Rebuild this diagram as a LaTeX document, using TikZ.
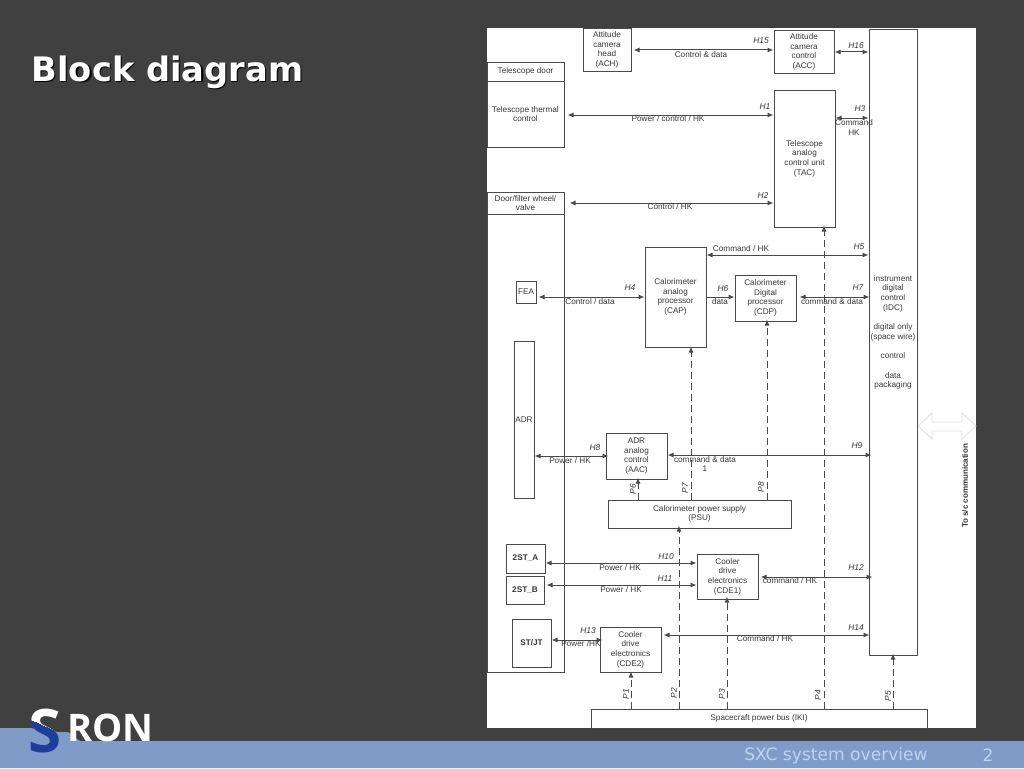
\documentclass[tikz,border=0pt]{standalone}
\usepackage{fontspec}
\setmainfont{Liberation Sans}
\newfontfamily\verd{DejaVu Sans}
\newfontfamily\logofont{Open Sans}
\usetikzlibrary{arrows.meta}
\definecolor{slate}{HTML}{404040}
\definecolor{band}{HTML}{7F9BC8}
\definecolor{ink}{HTML}{4A4A4A}
\definecolor{txt}{HTML}{383838}
\definecolor{foot}{HTML}{BDD3EE}
\definecolor{sblue}{HTML}{1D3F9B}
\tikzset{
  x=1pt,y=-1pt,
  blk/.style={draw=ink,line width=1pt,fill=white,inner sep=0pt,text=txt,font=\fontsize{8.2}{9.7}\selectfont,align=center,minimum width=#1},
  lab/.style={text=txt,font=\fontsize{8.2}{9.7}\selectfont,align=center,inner sep=0pt},
  hl/.style={text=txt,font=\fontsize{8.4}{9.7}\selectfont\itshape,inner sep=0pt},
  pl/.style={text=txt,font=\fontsize{8.4}{9.7}\selectfont\itshape,inner sep=0pt,rotate=90},
  bi/.style={draw=ink,line width=1pt,{Latex[length=6pt,width=5pt]}-{Latex[length=6pt,width=5pt]}},
  uni/.style={draw=ink,line width=1pt,-{Latex[length=6pt,width=5pt]}},
  pw/.style={draw=ink,line width=1pt,dash pattern=on 7pt off 4pt,-{Latex[length=6pt,width=5pt]}},
}
% box: name, x1, y1, x2, y2, text
\newcommand{\bx}[6]{\node[blk=#4pt-#2pt,minimum height=#5pt-#3pt] (#1) at ({(#2+#4)/2},{(#3+#5)/2}) {#6};}
\begin{document}
\begin{tikzpicture}
\useasboundingbox (0,0) rectangle (1024,768);
\fill[slate] (0,0) rectangle (1024,768);
\fill[band] (0,728) -- (30,728) -- (58,732) -- (68,732) -- (80,741) -- (1024,741) -- (1024,768) -- (0,768) -- cycle;
\fill[white] (487,28) rectangle (976,728);
% title
\node[anchor=base west,inner sep=0pt,text=black,font=\verd\bfseries\fontsize{33.7}{36}\selectfont] (titleshadow) at (32.7,82.7) {Block diagram};
\node[anchor=base west,inner sep=0pt,text=white,font=\verd\bfseries\fontsize{33.7}{36}\selectfont] (title) at (31.5,81.5) {Block diagram};
% footer
\node[inner sep=0pt,text=foot,font=\verd\fontsize{17.1}{18}\selectfont] (foottext) at (836,755.5) {SXC system overview};
\node[inner sep=0pt,text=foot,font=\verd\fontsize{17.1}{18}\selectfont] (pagenum) at (988,755.5) {2};
% logo
\node[anchor=base west,inner sep=0pt,text=white,font=\logofont\bfseries\fontsize{38}{38}\selectfont] (ron) at (67,741.5) {RON};
\begin{scope}
\clip (0,690) -- (80,690) -- (80,742) -- (0,706) -- cycle;
\node[anchor=base west,inner sep=0pt,text=white,font=\logofont\bfseries\fontsize{60}{60}\selectfont] (sw) at (28,752) {S};
\end{scope}
\begin{scope}
\clip (0,706) -- (80,742) -- (80,768) -- (0,768) -- cycle;
\node[anchor=base west,inner sep=0pt,text=sblue,font=\logofont\bfseries\fontsize{60}{60}\selectfont] (sb) at (28,752) {S};
\end{scope}
% big arrow
\filldraw[draw=black!12,fill=white,line width=0.8pt] (918,426) -- (932,413) -- (932,422) -- (962,422) -- (962,413) -- (976,426) -- (962,439) -- (962,431) -- (932,431) -- (932,439) -- cycle;
\node[rotate=90,inner sep=0pt,text=black!80,font=\bfseries\fontsize{8}{9}\selectfont] (comm) at (965,486) {To s/c communication};
% boxes
\bx{ACH}{583}{29}{631}{71}{Attitude\\camera\\head\\(ACH)}
\bx{ACC}{774}{31}{834}{73}{Attitude\\camera\\control\\(ACC)}
\bx{IDC}{869}{30}{917}{655}{}
\node[lab] (idctext) at (893,332.5) {instrument\\digital\\control\\(IDC)\\[9.7pt]digital only\\(space wire)\\[9.7pt]control\\[9.7pt]data\\packaging};
\bx{TD}{487}{62}{564}{81}{Telescope door}
\bx{TT}{487}{81}{564}{147}{}
\node[lab] (tttext) at (525.5,114) {Telescope thermal\\control};
\bx{TAC}{774}{90}{835}{227}{Telescope\\analog\\control unit\\(TAC)}
\bx{DF}{487}{192}{564}{214}{Door/filter wheel/\\valve}
\bx{DB}{487}{214}{564}{672}{}
\bx{CAP}{645}{247}{706}{347}{Calorimeter\\analog\\processor\\(CAP)}
\bx{CDP}{735}{275}{796}{321}{Calorimeter\\Digital\\processor\\(CDP)}
\bx{FEA}{516}{281}{536}{303}{FEA}
\bx{ADR}{514}{341}{534}{498}{ADR}
\bx{AAC}{606}{433}{667}{479}{ADR\\analog\\control\\(AAC)}
\bx{PSU}{608}{500}{791}{528}{Calorimeter power supply\\(PSU)}
\bx{STA}{506}{544}{545}{573}{\bfseries 2ST\_A}
\bx{STB}{506}{576}{544}{604}{\bfseries 2ST\_B}
\bx{STJ}{512}{619}{551}{667}{\bfseries ST/JT}
\bx{CDEa}{697}{554}{758}{599}{Cooler\\drive\\electronics\\(CDE1)}
\bx{CDEb}{600}{627}{661}{672}{Cooler\\drive\\electronics\\(CDE2)}
\bx{IKI}{591}{709}{927}{728}{Spacecraft power bus (IKI)}
% horizontal connectors
\draw[bi] ([xshift=2pt]ACH.east |- 0,50) -- (ACC.west |- 0,50);
\draw[bi] (ACC.east |- 0,52) -- (IDC.west |- 0,52);
\draw[bi] ([xshift=3pt]TT.east |- 0,115) -- (TAC.west |- 0,115);
\draw[bi] (TAC.east |- 0,118) -- (IDC.west |- 0,118);
\draw[bi] ([xshift=5pt]DB.east |- 0,203) -- (TAC.west |- 0,203);
\draw[bi] (CAP.east |- 0,255) -- (IDC.west |- 0,255);
\draw[bi] ([xshift=2pt]FEA.east |- 0,297) -- (CAP.west |- 0,297);
\draw[uni] (CAP.east |- 0,297) -- (CDP.west |- 0,297);
\draw[bi] ([xshift=3pt]CDP.east |- 0,297) -- ([xshift=1pt]IDC.west |- 0,297);
\draw[bi] (ADR.east |- 0,456) -- ([xshift=3pt]AAC.west |- 0,456);
\draw[bi] (AAC.east |- 0,455) -- ([xshift=3pt]IDC.west |- 0,455);
\draw[bi] (STA.east |- 0,563) -- (CDEa.west |- 0,563);
\draw[bi] ([xshift=2pt]STB.east |- 0,585) -- (CDEa.west |- 0,585);
\draw[bi] ([xshift=2pt]CDEa.east |- 0,577) -- ([xshift=4pt]IDC.west |- 0,577);
\draw[bi] (STJ.east |- 0,640) -- ([xshift=3pt]CDEb.west |- 0,640);
\draw[bi] ([xshift=2pt]CDEb.east |- 0,635) -- ([xshift=1pt]IDC.west |- 0,635);
% dashed power connectors
\draw[pw] (IKI.north -| 631,0) -- ([yshift=1pt]CDEb.south -| 631,0);
\draw[pw] (IKI.north -| 679,0) -- ([yshift=3pt]PSU.south -| 679,0);
\draw[pw] (IKI.north -| 727,0) -- ([yshift=3pt]CDEa.south -| 727,0);
\draw[pw] (IKI.north -| 824,0) -- ([yshift=2pt]TAC.south -| 824,0);
\draw[pw] (IKI.north -| 893,0) -- ([yshift=2pt]IDC.south -| 893,0);
\draw[pw] (PSU.north -| 638,0) -- ([yshift=2pt]AAC.south -| 638,0);
\draw[pw] (PSU.north -| 691,0) -- ([yshift=1pt]CAP.south -| 691,0);
\draw[pw] (PSU.north -| 767,0) -- ([yshift=2pt]CDP.south -| 767,0);
% connector labels
\node[hl] (h15) at (761,41) {H15};
\node[lab] (l15) at (701,55) {Control \& data};
\node[hl] (h16) at (856,46) {H16};
\node[hl] (h1) at (765,107) {H1};
\node[lab] (l1) at (668,119) {Power / control / HK};
\node[hl] (h3) at (860,109) {H3};
\node[lab] (l3) at (854,127.5) {Command\\HK};
\node[hl] (h2) at (763,196) {H2};
\node[lab] (l2) at (670,207) {Control / HK};
\node[hl] (h5) at (859,247) {H5};
\node[lab] (l5) at (741,249) {Command / HK};
\node[hl] (h4) at (630,288) {H4};
\node[lab] (l4) at (590,302) {Control / data};
\node[hl] (h6) at (723,289) {H6};
\node[lab] (l6) at (720,302) {data};
\node[hl] (h7) at (858,288) {H7};
\node[lab] (l7) at (832,302) {command \& data};
\node[hl] (h8) at (595,448) {H8};
\node[lab] (l8) at (570,461) {Power / HK};
\node[hl] (h9) at (857,446) {H9};
\node[lab] (l9) at (705,464) {command \& data\\1};
\node[hl] (h10) at (666,557) {H10};
\node[lab] (l10) at (620,568) {Power / HK};
\node[hl] (h11) at (665,579) {H11};
\node[lab] (l11) at (621,590) {Power / HK};
\node[hl] (h12) at (856,568) {H12};
\node[lab] (l12) at (790,581) {command / HK};
\node[hl] (h13) at (588,631) {H13};
\node[lab] (l13) at (581,644) {Power /HK};
\node[hl] (h14) at (856,628) {H14};
\node[lab] (l14) at (765,639) {Command / HK};
\node[pl] (p1) at (626,694) {P1};
\node[pl] (p2) at (674,693) {P2};
\node[pl] (p3) at (722,694) {P3};
\node[pl] (p4) at (818,695) {P4};
\node[pl] (p5) at (888,696) {P5};
\node[pl] (p6) at (633,489) {P6};
\node[pl] (p7) at (685,488) {P7};
\node[pl] (p8) at (761,487) {P8};
\end{tikzpicture}
\end{document}
